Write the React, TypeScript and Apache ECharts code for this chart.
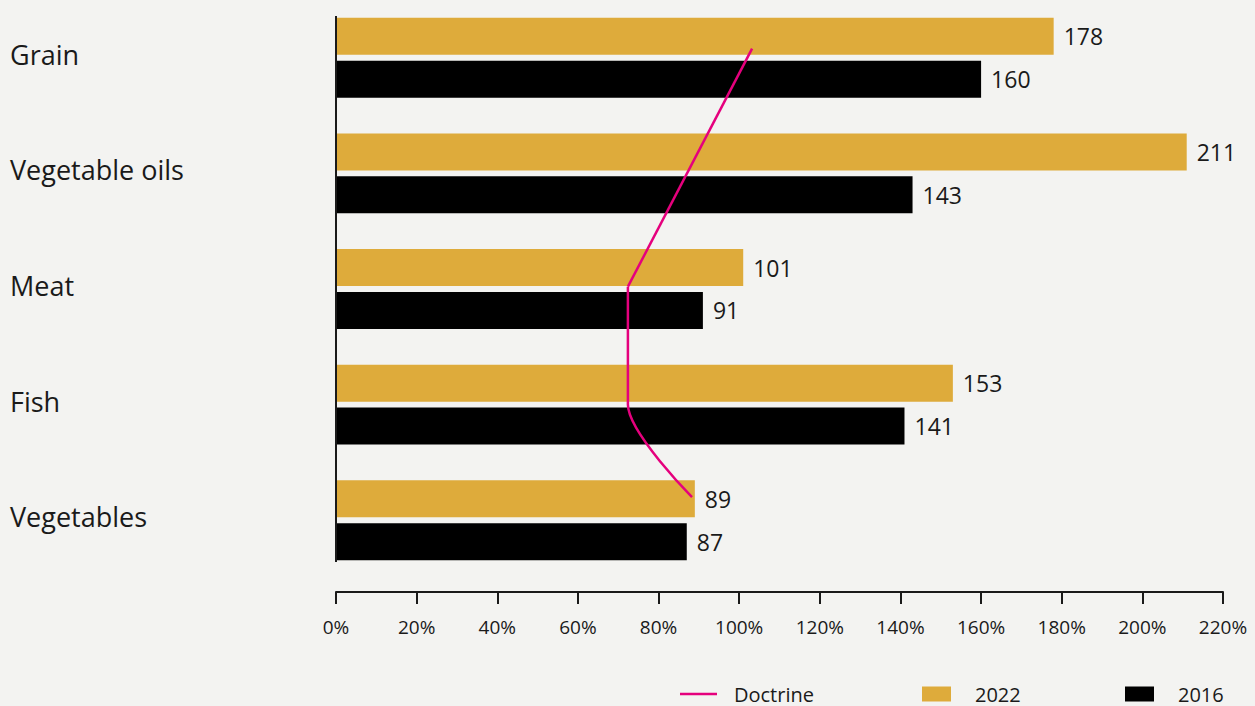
import React, { useEffect, useRef } from "react";
import * as echarts from "echarts";

// Self-sufficiency by product group, % of domestic demand
const categories = ["Grain", "Vegetable oils", "Meat", "Fish", "Vegetables"];
const values2022 = [178, 211, 101, 153, 89];
const values2016 = [160, 143, 91, 141, 87];

// Doctrine threshold line: share (%) at each vertex and the row it sits at (0 = Grain row)
const doctrineShare = [103.2, 72.4, 72.4, 88.3];
const doctrineRow = [-0.08, 1.98, 3.0, 3.8];

const xMin = 0;
const xMax = 220;
const xStep = 20;

const FONT = "'Open Sans', 'Noto Sans', sans-serif";
const INK = "#1a1a1a";
const GOLD = "#deab3b";
const BLACK = "#000000";
const PINK = "#e5007d";
const BG = "#f3f3f1";

export default function App() {
  const ref = useRef<HTMLDivElement>(null);

  useEffect(() => {
    if (!ref.current) return;
    const chart = echarts.init(ref.current, undefined, { renderer: "svg" });

    const doctrinePoints = doctrineShare.map((v, i) => [v, doctrineRow[i]]);
    const valueLabel = {
      show: true,
      position: "right",
      distance: 10,
      fontSize: 23,
      color: INK,
      fontFamily: FONT,
    };
    const legendText = (pad: number) => ({
      fontSize: 20,
      color: INK,
      fontFamily: FONT,
      padding: [0, 0, 0, pad],
    });

    chart.setOption({
      animation: false,
      backgroundColor: BG,
      textStyle: { fontFamily: FONT, color: INK },
      grid: { left: 336, right: 32, top: -2, height: 580, containLabel: false },
      xAxis: {
        type: "value",
        min: xMin,
        max: xMax,
        interval: xStep,
        position: "bottom",
        offset: 14,
        axisLine: { show: true, onZero: false, lineStyle: { color: INK, width: 2 } },
        axisTick: { show: true, length: 12, lineStyle: { color: INK, width: 2 } },
        splitLine: { show: false },
        axisLabel: {
          formatter: "{value}%",
          fontSize: 19,
          color: INK,
          fontFamily: FONT,
          margin: 25,
        },
      },
      yAxis: [
        {
          type: "category",
          data: categories,
          inverse: true,
          axisLine: { show: false },
          axisTick: { show: false },
          splitLine: { show: false },
          axisLabel: {
            align: "left",
            margin: 326,
            formatter: "{name|{value}}",
            rich: {
              name: {
                fontSize: 27,
                color: INK,
                fontFamily: FONT,
                padding: [0, 0, 7, 0],
              },
            },
          },
        },
        {
          type: "value",
          min: -0.5,
          max: 4.5,
          inverse: true,
          show: false,
        },
      ],
      legend: [
        {
          data: ["Doctrine"],
          left: 675,
          top: 679,
          icon: "rect",
          itemWidth: 37,
          itemHeight: 2.5,
          itemStyle: { color: PINK },
          textStyle: legendText(12),
        },
        {
          data: ["2022"],
          left: 917,
          top: 679,
          icon: "rect",
          itemWidth: 29,
          itemHeight: 15,
          textStyle: legendText(19),
        },
        {
          data: ["2016"],
          left: 1120,
          top: 679,
          icon: "rect",
          itemWidth: 29,
          itemHeight: 15,
          textStyle: legendText(19),
        },
      ],
      graphic: [
        {
          type: "line",
          z: 100,
          shape: { x1: 336, y1: 16, x2: 336, y2: 562 },
          style: { stroke: INK, lineWidth: 2 },
        },
      ],
      series: [
        {
          name: "2022",
          type: "bar",
          data: values2022,
          barWidth: 37,
          barGap: "16%",
          itemStyle: { color: GOLD },
          label: valueLabel,
        },
        {
          name: "2016",
          type: "bar",
          data: values2016,
          barWidth: 37,
          barGap: "16%",
          itemStyle: { color: BLACK },
          label: valueLabel,
        },
        {
          name: "Doctrine",
          type: "line",
          yAxisIndex: 1,
          data: doctrinePoints.slice(0, 2),
          symbol: "none",
          smooth: false,
          lineStyle: { color: PINK, width: 2.5 },
          itemStyle: { color: PINK },
          z: 5,
        },
        {
          name: "Doctrine",
          type: "line",
          yAxisIndex: 1,
          data: doctrinePoints.slice(1),
          symbol: "none",
          smooth: 0.3,
          smoothMonotone: "y",
          lineStyle: { color: PINK, width: 2.5 },
          itemStyle: { color: PINK },
          z: 5,
        },
      ],
    });

    return () => chart.dispose();
  }, []);

  return (
    <div
      ref={ref}
      style={{ position: "absolute", left: 0, top: 0, width: 1255, height: 706, background: BG }}
    />
  );
}
